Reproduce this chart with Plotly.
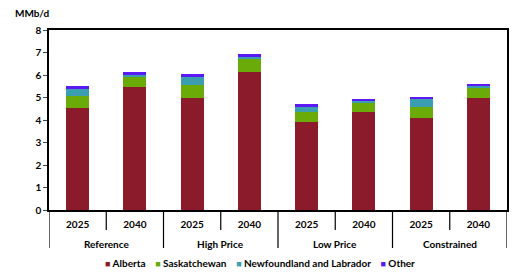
import plotly.graph_objects as go

groups = ["Reference", "Reference", "High Price", "High Price", "Low Price", "Low Price", "Constrained", "Constrained"]
years = ["2025", "2040", "2025", "2040", "2025", "2040", "2025", "2040"]
scenarios = ["Reference", "High Price", "Low Price", "Constrained"]

alberta = [4.55, 5.48, 4.99, 6.15, 3.92, 4.37, 4.10, 4.99]
saskatchewan = [0.50, 0.42, 0.58, 0.55, 0.45, 0.37, 0.48, 0.43]
newfoundland = [0.34, 0.11, 0.34, 0.09, 0.21, 0.10, 0.35, 0.09]
other = [0.11, 0.14, 0.15, 0.14, 0.12, 0.09, 0.09, 0.09]

series = [
    ("Alberta", alberta, "#8B1A2B"),
    ("Saskatchewan", saskatchewan, "#6AAB0A"),
    ("Newfoundland and Labrador", newfoundland, "#3A9DB0"),
    ("Other", other, "#5B1AF5"),
]

font = "Lato"
bold = dict(family=font, size=10, color="black", weight="bold")
cats = [f"{g} {y}" for g, y in zip(groups, years)]
n = len(cats)

fig = go.Figure()
for name, vals, col in series:
    fig.add_trace(go.Bar(x=cats, y=vals, name=name, marker_color=col,
                         marker_line_width=0, showlegend=False))

shapes = []
# boundaries between bars: short within a scenario, long between scenarios
for i in range(n + 1):
    b = i - 0.5
    is_group_edge = i == 0 or i == n or groups[i] != groups[i - 1]
    shapes.append(dict(type="line", xref="x", yref="paper", x0=b, x1=b,
                       y0=0, y1=-0.211 if is_group_edge else -0.111,
                       line=dict(color="black", width=1.2)))

annotations = [dict(text="MMb/d", xref="paper", yref="paper", x=-0.079, y=1.097,
                    xanchor="left", yanchor="middle", showarrow=False, font=bold)]
for s in scenarios:
    idx = [i for i, g in enumerate(groups) if g == s]
    annotations.append(dict(text=s, xref="x", yref="paper", x=sum(idx) / len(idx),
                            y=-0.189, xanchor="center", yanchor="middle",
                            showarrow=False, font=bold))

legend_text = "&nbsp;&nbsp;&nbsp;&nbsp;".join(
    f"<span style='color:{col};font-size:9px'>■</span>&nbsp;{name}" for name, _, col in series)
annotations.append(dict(text=legend_text, xref="paper", yref="paper", x=0.461, y=-0.294,
                        xanchor="center", yanchor="middle", showarrow=False, font=bold))

fig.update_layout(
    width=514, height=266,
    margin=dict(l=41, r=15, t=22, b=64),
    barmode="stack", bargap=0.6,
    plot_bgcolor="white", paper_bgcolor="white",
    font=dict(family=font, size=10, color="black"),
    xaxis=dict(type="category", range=[-0.5, n - 0.5], tickvals=cats, ticktext=years,
               showline=True, linecolor="black", linewidth=1.5, mirror=True,
               ticks="", ticklabelstandoff=4, tickfont=bold, showgrid=False),
    yaxis=dict(range=[0, 8], dtick=1, showline=True, linecolor="black", linewidth=1.5,
               mirror=True, ticks="outside", ticklen=4, showgrid=False, zeroline=False,
               tickfont=bold),
    shapes=shapes,
    annotations=annotations,
)

fig.write_html("out.html")
